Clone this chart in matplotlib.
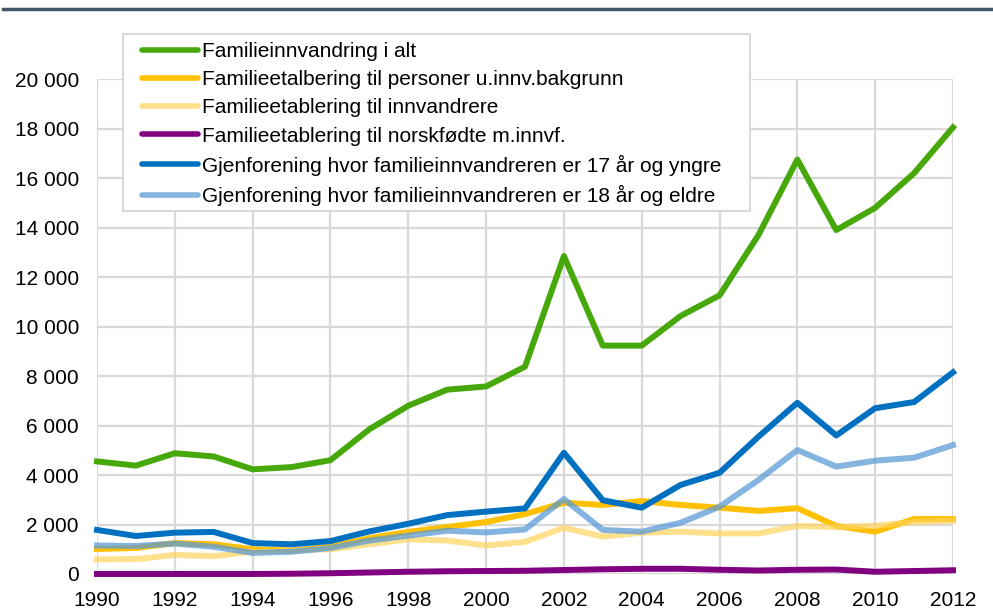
import matplotlib.pyplot as plt
from matplotlib.lines import Line2D
from matplotlib.patches import Rectangle
from matplotlib.ticker import FuncFormatter

plt.rcParams['font.family'] = ['Liberation Sans', 'DejaVu Sans']

years = list(range(1990, 2013))

i_alt = [4550, 4380, 4880, 4750, 4230, 4320, 4600, 5850, 6800, 7450, 7580, 8380,
         12850, 9230, 9230, 10430, 11260, 13700, 16750, 13900, 14800, 16200, 18050]
u_innv = [1010, 1050, 1250, 1200, 1000, 950, 1100, 1450, 1700, 1900, 2100, 2420,
          2880, 2790, 2950, 2790, 2680, 2550, 2660, 1940, 1710, 2220, 2220]
innvandrere = [590, 600, 770, 720, 900, 950, 1000, 1200, 1400, 1350, 1150, 1300,
               1870, 1510, 1670, 1710, 1640, 1640, 1940, 1900, 1950, 2100, 2150]
norskfodte = [0, 0, 0, 0, 0, 10, 30, 60, 90, 110, 120, 130,
              160, 190, 210, 210, 170, 140, 170, 180, 90, 120, 150]
under18 = [1780, 1535, 1670, 1700, 1250, 1200, 1330, 1720, 2030, 2380, 2520, 2650,
           4900, 2980, 2680, 3600, 4090, 5550, 6920, 5600, 6700, 6950, 8150]
over18 = [1150, 1130, 1230, 1100, 850, 900, 1050, 1350, 1550, 1750, 1680, 1800,
          3030, 1780, 1710, 2070, 2720, 3800, 5010, 4340, 4580, 4700, 5210]

labels = ['Familieinnvandring i alt',
          'Familieetalbering til personer u.innv.bakgrunn',
          'Familieetablering til innvandrere',
          'Familieetablering til norskfødte m.innvf.',
          'Gjenforening hvor familieinnvandreren er 17 år og yngre',
          'Gjenforening hvor familieinnvandreren er 18 år og eldre']

fig = plt.figure(figsize=(9.93, 6.09), dpi=100)
ax = fig.add_axes([0.0977, 0.0575, 0.862, 0.8125])

lw = 4.3
ax.plot(years, i_alt, color='#46a80a', lw=lw, label=labels[0], clip_on=False)
ax.plot(years, u_innv, color='#ffc000', lw=lw, label=labels[1], clip_on=False)
ax.plot(years, innvandrere, color='#ffd35c', lw=lw, alpha=0.7, label=labels[2], clip_on=False)
ax.plot(years, norskfodte, color='#800080', lw=lw, label=labels[3], clip_on=False)
ax.plot(years, under18, color='#0070c0', lw=lw, label=labels[4], clip_on=False)
ax.plot(years, over18, color='#5b9bd5', lw=lw, alpha=0.75, label=labels[5], clip_on=False)

ax.set_xlim(1990, 2012)
ax.set_ylim(0, 20000)
ax.set_xticks(range(1990, 2013, 2))
ax.set_yticks(range(0, 20001, 2000))
ax.yaxis.set_major_formatter(FuncFormatter(lambda v, p: f'{int(v):,}'.replace(',', ' ')))
ax.grid(True, color='#d9d9d9', lw=1.6)
ax.set_axisbelow(True)
for s in ax.spines.values():
    s.set_visible(False)
ax.tick_params(length=0, labelsize=15, colors='black')
ax.tick_params(axis='y', pad=13)
ax.tick_params(axis='x', pad=12)

# legend box drawn separately (wider side padding than top/bottom)
ax.add_patch(Rectangle((0.1239, 0.6535), 0.6314, 0.2906, transform=fig.transFigure,
                       facecolor='white', edgecolor='#d9d9d9', lw=1.5,
                       clip_on=False, zorder=4.9))
leg = ax.legend(loc='upper left', bbox_to_anchor=(0.0526, 1.075), fontsize=15,
                frameon=False, handlelength=2.7, handletextpad=0.2,
                labelspacing=0.44, borderpad=0, borderaxespad=0)
for h in leg.get_lines():
    h.set_linewidth(4)
    h.set_solid_capstyle('round')

fig.add_artist(Line2D([0.003, 1.0], [0.986, 0.986], color='#44546a', lw=2.5,
                      transform=fig.transFigure))

fig.savefig('out.png', dpi=100)
